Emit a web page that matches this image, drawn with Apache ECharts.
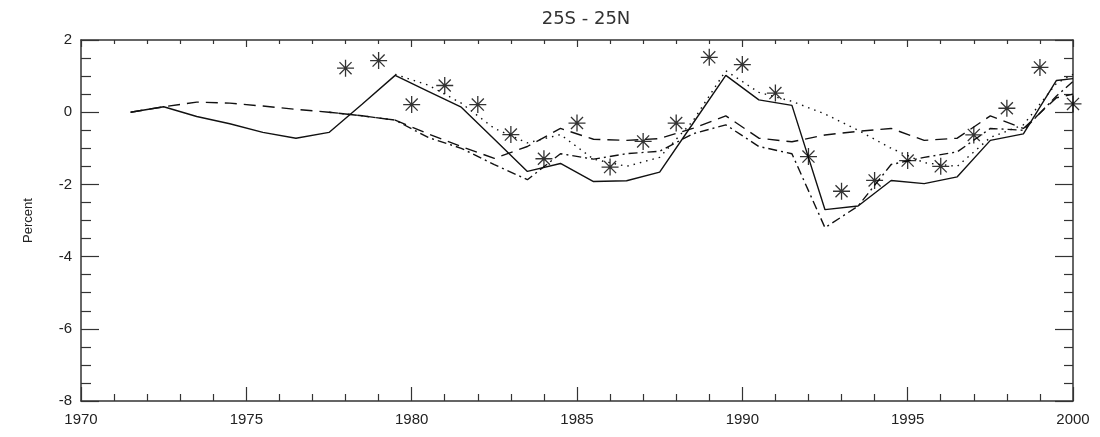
<!DOCTYPE html>
<html>
<head>
<meta charset="utf-8">
<script src="https://cdn.jsdelivr.net/npm/echarts@6/dist/echarts.min.js"></script>
<style>
html,body{margin:0;padding:0;background:#fff;}
#chart{width:1100px;height:437px;}
</style>
</head>
<body>
<div id="chart"></div>
<script>
// mid-year positions for the four model lines
var midYears = [1971.5,1972.5,1973.5,1974.5,1975.5,1976.5,1977.5,1978.5,1979.5,1980.5,
    1981.5,1982.5,1983.5,1984.5,1985.5,1986.5,1987.5,1988.5,1989.5,1990.5,
    1991.5,1992.5,1993.5,1994.5,1995.5,1996.5,1997.5,1998.5,1999.5,2000];
var solidVals = [0.0,0.15,-0.12,-0.32,-0.56,-0.72,-0.56,0.22,1.02,0.58,
    0.14,-0.75,-1.64,-1.42,-1.92,-1.90,-1.66,-0.32,1.02,0.34,
    0.19,-2.70,-2.60,-1.89,-1.98,-1.79,-0.78,-0.60,0.88,0.93];
var dottedVals = [null,null,null,null,null,null,null,null,1.05,0.75,
    0.25,-0.45,-0.85,-0.62,-1.30,-1.50,-1.25,-0.25,1.15,0.55,
    0.30,-0.05,-0.50,-1.00,-1.40,-1.50,-0.70,-0.35,0.80,1.05];
var dashedVals = [0.0,0.15,0.28,0.25,0.17,0.08,0.0,-0.10,-0.22,-0.60,
    -0.95,-1.28,-0.95,-0.45,-0.75,-0.78,-0.73,-0.45,-0.10,-0.72,
    -0.82,-0.63,-0.53,-0.45,-0.78,-0.72,-0.10,-0.45,0.40,0.50];
var dashDotVals = [null,null,null,null,null,null,0.0,-0.10,-0.22,-0.70,
    -1.00,-1.45,-1.87,-1.15,-1.30,-1.15,-1.08,-0.60,-0.35,-0.95,
    -1.15,-3.20,-2.60,-1.45,-1.25,-1.10,-0.45,-0.50,0.45,0.85];
// observations (asterisks)
var obsYears = [1978,1979,1980,1981,1982,1983,1984,1985,1986,1987,1988,1989,
    1990,1991,1992,1993,1994,1995,1996,1997,1998,1999,2000];
var obsVals = [1.22,1.43,0.21,0.74,0.21,-0.62,-1.29,-0.30,-1.52,-0.81,-0.30,1.52,
    1.32,0.53,-1.23,-2.19,-1.89,-1.34,-1.50,-0.63,0.11,1.24,0.23];

function pairs(xs, ys){
    return xs.map(function(x,i){ return [x, ys[i]]; });
}

var lineCol = '#111';
var axisCol = '#333';
var star = 'path://M0,-10L0,10M-10,0L10,0M-7.1,-7.1L7.1,7.1M-7.1,7.1L7.1,-7.1';

function mkLine(data, type){
    return {
        type: 'line',
        data: data,
        symbol: 'none',
        connectNulls: false,
        lineStyle: { color: lineCol, width: 1.4, type: type },
        z: 2
    };
}

var myChart = echarts.init(document.getElementById('chart'));
myChart.setOption({
    animation: false,
    backgroundColor: '#fff',
    title: {
        text: '25S - 25N',
        left: 581,
        top: 5,
        textAlign: 'center',
        textStyle: { fontFamily: 'DejaVu Sans', fontWeight: 'normal', fontSize: 18, color: '#333' }
    },
    grid: { left: 81, right: 27, top: 40, bottom: 36 },
    xAxis: [{
        type: 'value',
        min: 1970, max: 2000, interval: 5,
        axisLine: { onZero: false, lineStyle: { color: axisCol, width: 1.5 } },
        axisTick: { inside: true, length: 14, lineStyle: { color: axisCol, width: 1.2 } },
        minorTick: { show: true, splitNumber: 5, length: 7, lineStyle: { color: axisCol, width: 1.2 } },
        splitLine: { show: false },
        axisLabel: {
            color: '#222', fontSize: 15, margin: 11, fontFamily: 'Liberation Sans',
            formatter: function(v){ return String(v); }
        }
    }, {
        type: 'value',
        position: 'top',
        min: 1970, max: 2000, interval: 5,
        axisLine: { onZero: false, lineStyle: { color: axisCol, width: 1.5 } },
        axisTick: { inside: true, length: 7, lineStyle: { color: axisCol, width: 1.2 } },
        minorTick: { show: true, splitNumber: 5, length: 4, lineStyle: { color: axisCol, width: 1.2 } },
        splitLine: { show: false },
        axisLabel: { show: false }
    }],
    yAxis: [{
        type: 'value',
        min: -8, max: 2, interval: 2,
        name: 'Percent',
        nameLocation: 'middle',
        nameGap: 46,
        nameTextStyle: { color: '#222', fontSize: 13, fontFamily: 'Liberation Sans' },
        axisLine: { onZero: false, lineStyle: { color: axisCol, width: 1.5 } },
        axisTick: { inside: true, length: 18, lineStyle: { color: axisCol, width: 1.2 } },
        minorTick: { show: true, splitNumber: 4, length: 10, lineStyle: { color: axisCol, width: 1.2 } },
        splitLine: { show: false },
        axisLabel: { color: '#222', fontSize: 15, margin: 9, fontFamily: 'Liberation Sans' }
    }, {
        type: 'value',
        position: 'right',
        min: -8, max: 2, interval: 2,
        axisLine: { onZero: false, lineStyle: { color: axisCol, width: 1.5 } },
        axisTick: { inside: true, length: 18, lineStyle: { color: axisCol, width: 1.2 } },
        minorTick: { show: true, splitNumber: 4, length: 9, lineStyle: { color: axisCol, width: 1.2 } },
        splitLine: { show: false },
        axisLabel: { show: false }
    }],
    series: [
        mkLine(pairs(midYears, solidVals), 'solid'),
        mkLine(pairs(midYears, dottedVals), [1.5, 5]),
        mkLine(pairs(midYears, dashedVals), [12, 7]),
        mkLine(pairs(midYears, dashDotVals), [9, 4, 2, 4]),
        {
            type: 'scatter',
            data: pairs(obsYears, obsVals),
            symbol: star,
            symbolSize: 17,
            itemStyle: { color: 'none', borderColor: '#000', borderWidth: 1.3 },
            z: 3
        }
    ]
});
</script>
</body>
</html>
